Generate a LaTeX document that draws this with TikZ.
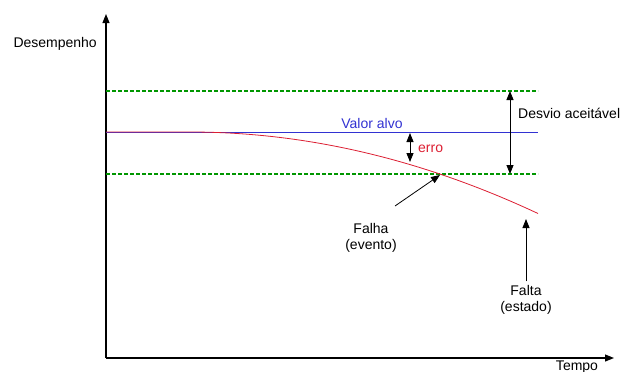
\documentclass[tikz,border=0pt]{standalone}
\usepackage{fontspec}
\setmainfont{Liberation Sans}
\usetikzlibrary{arrows.meta}
\definecolor{tblue}{RGB}{50,50,210}
\definecolor{tred}{RGB}{220,30,50}
\definecolor{tgreen}{RGB}{0,150,0}
\begin{document}
\begin{tikzpicture}[x=1pt,y=-1pt,
  lbl/.style={font=\fontsize{14}{16}\selectfont, inner sep=0pt, align=center},
  tip/.style={-{Triangle[length=9pt,width=7pt]}},
  tips/.style={{Triangle[length=9pt,width=7pt]}-{Triangle[length=9pt,width=7pt]}},
  axis/.style={line width=1.1pt, tip},
  limit/.style={tgreen, line width=1.3pt, dash pattern=on 4pt off 2pt}
]
\useasboundingbox (0,0) rectangle (622,372);
% axes
\coordinate (O) at (106,358);
\coordinate (Ytop) at (106,14);
\coordinate (Xend) at (614,358);
\draw[axis] (O) -- (Ytop);
\draw[axis] (O) -- (Xend);
\node[lbl, anchor=east] (ylab) at (97,44) {Desempenho};
\node[lbl, anchor=north] (xlab) at (577,361) {Tempo};
% lines
\coordinate (upL) at (106,91);
\coordinate (upR) at (538,91);
\coordinate (loL) at (106,174);
\coordinate (loR) at (538,174);
\coordinate (tL) at (106,132);
\coordinate (tR) at (538,132);
\draw[tblue, line width=0.8pt] (tL) -- (tR);
\draw[limit] (upL) -- (upR);
\draw[limit] (loL) -- (loR);
\node[lbl, tblue, anchor=south] (alvo) at (372,129) {Valor alvo};
% red curve
\coordinate (cs) at (190,132);
\coordinate (ce) at (538,213.5);
\draw[tred, line width=0.8pt] (tL) -- (cs) .. controls (306,132) and (422,159.2) .. (ce);
% erro
\coordinate (e1) at (410,133);
\coordinate (e2) at (410,162);
\draw[tips, line width=0.8pt] (e1) -- (e2);
\node[lbl, tred, anchor=west] (erro) at (418,149) {erro};
% desvio
\coordinate (d1) at (510,91);
\coordinate (d2) at (510,174);
\draw[tips, line width=0.8pt] (d1) -- (d2);
\node[lbl, anchor=west] (desvio) at (518,113) {Desvio aceitável};
% falha
\coordinate (cross) at (440,175);
\node[lbl] (falha) at (371,238) {Falha\\(evento)};
\coordinate (fs) at (395,206);
\draw[tip, line width=0.8pt] (fs) -- (cross);
% falta
\node[lbl] (falta) at (526,300) {Falta\\(estado)};
\coordinate (ft) at (526,219);
\draw[tip, line width=0.8pt] (falta.north) ++(0,-4) -- (ft);
\end{tikzpicture}
\end{document}
